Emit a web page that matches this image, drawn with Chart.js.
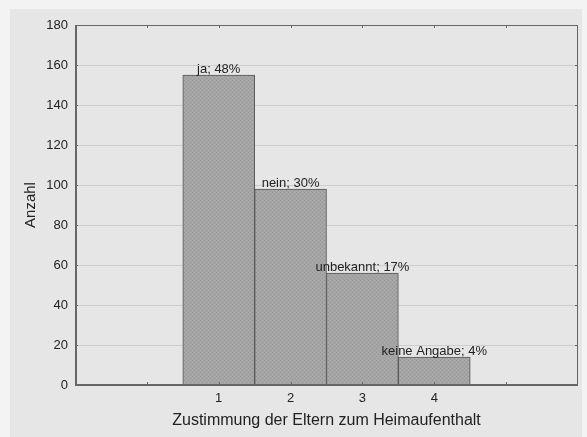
<!DOCTYPE html>
<html>
<head>
<meta charset="utf-8">
<script src="https://cdn.jsdelivr.net/npm/chart.js@4/dist/chart.umd.min.js"></script>
<style>
  html, body { margin: 0; padding: 0; background: #f3f3f3; }
  #wrap { width: 587px; height: 437px; }
</style>
</head>
<body>
<div id="wrap"><canvas id="myChart" width="587" height="437"></canvas></div>
<script>
// daten
const kategorien = [1, 2, 3, 4];
const anzahl = [155, 98, 56, 14];
const beschriftung = ['ja; 48%', 'nein; 30%', 'unbekannt; 17%', 'keine Angabe; 4%'];
const yTicks = [0, 20, 40, 60, 80, 100, 120, 140, 160, 180];

const schrift = '"Liberation Sans", Arial, sans-serif';

// grau mit feiner schraffur
function muster() {
  const c = document.createElement('canvas');
  c.width = 4; c.height = 4;
  const g = c.getContext('2d');
  g.fillStyle = '#a4a4a4';
  g.fillRect(0, 0, 4, 4);
  g.fillStyle = '#999999';
  g.fillRect(0, 0, 1, 1);
  g.fillRect(2, 2, 1, 1);
  g.fillStyle = '#acacac';
  g.fillRect(2, 0, 1, 1);
  g.fillRect(0, 2, 1, 1);
  return g.createPattern(c, 'repeat');
}

const hintergrund = {
  id: 'hintergrund',
  beforeDraw(chart) {
    const ctx = chart.ctx;
    ctx.save();
    ctx.fillStyle = '#e6e6e6';
    ctx.fillRect(10, 9, chart.width - 15, chart.height - 9);
    ctx.restore();
  }
};

const extras = {
  id: 'extras',
  afterDatasetsDraw(chart) {
    const ctx = chart.ctx;
    const a = chart.chartArea;
    const x = chart.scales.x, y = chart.scales.y;
    ctx.save();
    // rahmen
    ctx.strokeStyle = '#666';
    ctx.lineWidth = 1;
    ctx.strokeRect(a.left + 0.5, a.top + 0.5, a.right - a.left - 1, a.bottom - a.top);
    ctx.lineWidth = 2;
    ctx.beginPath();
    ctx.moveTo(a.left + 1, a.top);
    ctx.lineTo(a.left + 1, a.bottom);
    ctx.lineTo(a.right, a.bottom);
    ctx.stroke();
    // kleine ticks innen
    ctx.lineWidth = 1;
    ctx.beginPath();
    for (let v = 0; v <= 5; v++) {
      const px = Math.round(x.getPixelForValue(v)) + 0.5;
      ctx.moveTo(px, a.bottom); ctx.lineTo(px, a.bottom - 3);
      ctx.moveTo(px, a.top); ctx.lineTo(px, a.top + 3);
    }
    yTicks.forEach(v => {
      const py = Math.round(y.getPixelForValue(v)) + 0.5;
      ctx.moveTo(a.left, py); ctx.lineTo(a.left + 3, py);
      ctx.moveTo(a.right, py); ctx.lineTo(a.right - 3, py);
    });
    ctx.stroke();
    // beschriftung der balken
    ctx.fillStyle = '#222';
    ctx.font = '13px ' + schrift;
    ctx.textAlign = 'center';
    ctx.textBaseline = 'alphabetic';
    chart.getDatasetMeta(0).data.forEach((bar, i) => {
      ctx.fillText(beschriftung[i], bar.x, bar.y - 2);
    });
    ctx.restore();
  }
};

const ctx = document.getElementById('myChart');
new Chart(ctx, {
  type: 'bar',
  data: {
    datasets: [{
      data: kategorien.map((k, i) => ({ x: k, y: anzahl[i] })),
      backgroundColor: muster(),
      borderColor: '#555',
      borderWidth: 1,
      barPercentage: 1,
      categoryPercentage: 1
    }]
  },
  options: {
    responsive: false,
    animation: false,
    layout: { padding: { left: 10, top: 25, right: 9, bottom: 0 } },
    plugins: { legend: { display: false }, tooltip: { enabled: false } },
    scales: {
      x: {
        type: 'linear',
        offset: false,
        min: -1,
        max: 6,
        grid: { display: false, drawTicks: false, offset: false },
        border: { display: false },
        ticks: {
          stepSize: 1,
          padding: 6,
          color: '#222',
          font: { family: schrift, size: 13 },
          callback: v => (v >= 1 && v <= 4 ? String(v) : '')
        },
        title: {
          display: true,
          text: 'Zustimmung der Eltern zum Heimaufenthalt',
          color: '#222',
          font: { family: schrift, size: 16 },
          padding: { top: 4, bottom: 7 }
        },
        afterFit(s) { s.height = 52; }
      },
      y: {
        min: 0,
        max: 180,
        grid: { color: '#cdcdcd', drawTicks: false },
        border: { display: false },
        ticks: {
          stepSize: 20,
          padding: 7,
          color: '#222',
          font: { family: schrift, size: 13 }
        },
        title: {
          display: true,
          text: 'Anzahl',
          color: '#222',
          font: { family: schrift, size: 15 },
          padding: { top: 12, bottom: 0 }
        },
        afterFit(s) { s.width = 65; }
      }
    }
  },
  plugins: [hintergrund, extras]
});
</script>
</body>
</html>
